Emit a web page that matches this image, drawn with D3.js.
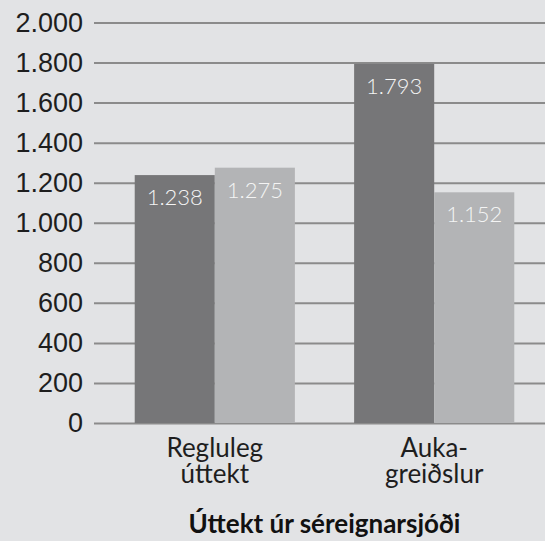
<!DOCTYPE html>
<html>
<head>
<meta charset="utf-8">
<script src="https://cdn.jsdelivr.net/npm/d3@7"></script>
<style>
  body { margin: 0; background: #e2e3e5; }
  svg { display: block; font-family: Lato, sans-serif; }
</style>
</head>
<body>
<div id="chart"></div>
<script>
// Data
const categories = [['Regluleg', 'úttekt'], ['Auka-', 'greiðslur']]
const seriesNames = ['Röð 1', 'Röð 2']
const series1 = [1238, 1793]
const series2 = [1275, 1152]
const yTicks = [0, 200, 400, 600, 800, 1000, 1200, 1400, 1600, 1800, 2000]
const title = 'Úttekt úr séreignarsjóði'

const colors = ['#767678', '#b3b4b6']
const width = 545
const height = 541

const locale = d3.formatLocale({ decimal: ',', thousands: '.', grouping: [3], currency: ['', ''] })
const fmt = locale.format(',d')

const svg = d3.select('#chart')
  .append('svg')
    .attr('width', width)
    .attr('height', height)

svg.append('rect')
    .attr('width', width)
    .attr('height', height)
    .attr('fill', '#e2e3e5')

const y = d3.scaleLinear()
  .domain([0, 2000])
  .range([423, 22.5])

const x0 = d3.scaleBand()
  .domain(d3.range(categories.length))
  .range([104, 545])
  .paddingInner(0.27)
  .paddingOuter(0.14)

const x1 = d3.scaleBand()
  .domain(seriesNames)
  .range([0, x0.bandwidth()])

// Grid / y axis
const yAxis = svg.append('g')
    .attr('transform', 'translate(94,0)')
    .call(d3.axisLeft(y)
      .tickValues(yTicks)
      .tickFormat(fmt)
      .tickSizeInner(-(width - 94))
      .tickSizeOuter(0)
      .tickPadding(11))

yAxis.select('.domain').remove()
yAxis.selectAll('.tick line')
    .attr('stroke', '#8b8b8b')
    .attr('stroke-width', 2)
yAxis.selectAll('.tick text')
    .attr('fill', '#1e1e1e')
    .attr('font-size', 27)

// Bars
const rows = categories.map((c, i) => [
  { key: seriesNames[0], value: series1[i] },
  { key: seriesNames[1], value: series2[i] }
])

const groups = svg.selectAll('.group')
  .data(rows)
  .enter()
  .append('g')
    .attr('class', 'group')
    .attr('transform', (d, i) => 'translate(' + x0(i) + ',0)')

groups.selectAll('rect')
  .data(d => d)
  .enter()
  .append('rect')
    .attr('x', d => x1(d.key))
    .attr('y', d => y(d.value))
    .attr('width', x1.bandwidth())
    .attr('height', d => y(0) - y(d.value))
    .attr('fill', (d, i) => colors[i])

groups.selectAll('.val')
  .data(d => d)
  .enter()
  .append('text')
    .attr('class', 'val')
    .attr('x', d => x1(d.key) + x1.bandwidth() / 2)
    .attr('y', d => y(d.value) + 30)
    .attr('text-anchor', 'middle')
    .attr('font-size', 22)
    .attr('font-weight', 300)
    .attr('fill', '#f4f4f4')
    .text(d => fmt(d.value))

// Category labels
categories.forEach((lines, i) => {
  const cx = x0(i) + x0.bandwidth() / 2
  lines.forEach((line, k) => {
    svg.append('text')
        .attr('x', cx)
        .attr('y', 457 + k * 26)
        .attr('text-anchor', 'middle')
        .attr('font-size', 26)
        .attr('fill', '#1e1e1e')
        .text(line)
  })
})

// Axis title
svg.append('text')
    .attr('x', (x0(0) + x0(1) + x0.bandwidth()) / 2)
    .attr('y', 533)
    .attr('text-anchor', 'middle')
    .attr('font-size', 26)
    .attr('font-weight', 'bold')
    .attr('fill', '#111')
    .text(title)
</script>
</body>
</html>
